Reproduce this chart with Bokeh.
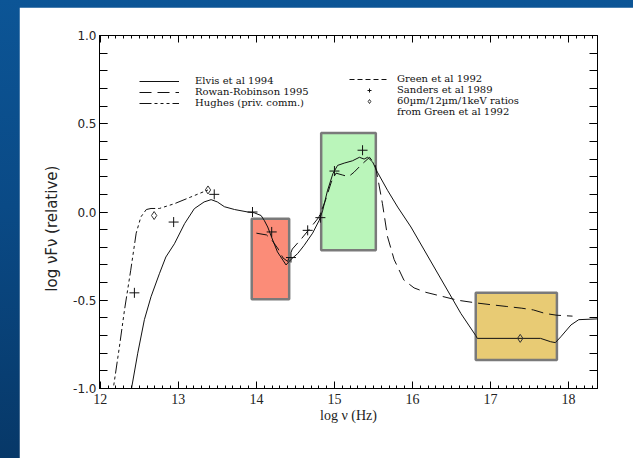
from bokeh.plotting import figure
from bokeh.models import (Legend, LegendItem, LinearAxis, FixedTicker,
                          SingleIntervalTicker, Range1d, NumeralTickFormatter)
from bokeh.layouts import column
from bokeh.embed import file_html
from bokeh.resources import INLINE

# ---------------- data ----------------
elvis_x = [12.37, 12.40, 12.48, 12.565, 12.65, 12.757, 12.84, 12.95, 13.08, 13.205,
           13.33, 13.42, 13.50, 13.59, 13.72, 13.89, 13.97, 14.06, 14.10, 14.145,
           14.21, 14.27, 14.34, 14.38, 14.44, 14.53, 14.61, 14.72, 14.805, 14.85,
           14.91, 14.98, 15.04, 15.125, 15.23, 15.32, 15.38, 15.425, 15.49, 15.55,
           15.68, 15.81, 15.98, 16.62, 16.81, 16.83, 17.64, 17.77, 17.83, 17.90,
           18.03, 18.13, 18.40]
elvis_y = [-1.10, -1.0, -0.80, -0.61, -0.48, -0.35, -0.255, -0.18, -0.066, 0.019,
           0.057, 0.07, 0.057, 0.03, 0.014, 0.0, -0.004, -0.02, -0.047, -0.085,
           -0.16, -0.226, -0.273, -0.30, -0.27, -0.235, -0.19, -0.12, -0.047, 0.01,
           0.12, 0.217, 0.264, 0.277, 0.29, 0.31, 0.30, 0.31, 0.283, 0.226,
           0.123, 0.028, -0.085, -0.575, -0.70, -0.716, -0.716, -0.735, -0.74, -0.707,
           -0.64, -0.61, -0.605]

rowan_x = [14.0, 14.13, 14.2, 14.28, 14.34, 14.40, 14.46, 14.58, 14.70, 14.80,
           14.88, 14.96, 15.02, 15.1, 15.18, 15.25, 15.35, 15.45, 15.52, 15.56,
           15.615, 15.68, 15.765, 15.89, 16.02, 16.17, 16.58, 16.83, 17.0, 17.2,
           17.4, 17.55, 17.7, 17.85, 18.05]
rowan_y = [-0.12, -0.13, -0.16, -0.21, -0.26, -0.28, -0.21, -0.15, -0.085, -0.03,
           0.06, 0.17, 0.22, 0.21, 0.20, 0.225, 0.27, 0.31, 0.27, 0.18,
           0.047, -0.14, -0.27, -0.386, -0.43, -0.455, -0.50, -0.516, -0.525, -0.535,
           -0.545, -0.555, -0.575, -0.585, -0.59]

hughes_x = [12.13, 12.17, 12.245, 12.31, 12.39, 12.46, 12.52, 12.59, 12.65, 12.757,
            12.95, 13.16, 13.38]
hughes_y = [-1.10, -0.99, -0.764, -0.556, -0.33, -0.12, -0.028, 0.014, 0.02, 0.02,
            0.047, 0.085, 0.125]

# Green et al 1992 curve: only its legend entry is visible (no plotted points)
green_x = [float("nan")]
green_y = [float("nan")]

sanders_x = [12.437, 12.94, 13.46, 13.95, 14.196, 14.443, 14.657, 14.82, 15.0, 15.36]
sanders_y = [-0.458, -0.057, 0.10, 0.0, -0.113, -0.258, -0.104, -0.032, 0.232, 0.35]

ratio_x = [12.69, 13.38, 17.38]
ratio_y = [-0.02, 0.125, -0.716]

# coloured bands: IR, optical/UV, X-ray
band_left = [13.94, 14.83, 16.81]
band_right = [14.42, 15.53, 17.85]
band_bottom = [-0.494, -0.217, -0.839]
band_top = [-0.038, 0.447, -0.458]
band_color = ["#fb8c78", "#baf5ba", "#e8cb74"]

x_ticks = [12, 13, 14, 15, 16, 17, 18]
y_ticks = [-1.0, -0.5, 0.0, 0.5, 1.0]
y_minor = [round(-1.0 + 0.1 * i, 1) for i in range(21)]

SERIF = "Liberation Serif"
LEGSERIF = "DejaVu Serif"
SANS = "DejaVu Sans"

p = figure(width=614, height=451, x_range=Range1d(11.99, 18.37), y_range=Range1d(-1.0, 1.0),
           output_backend="svg", toolbar_location=None,
           min_border_left=80, min_border_right=36, min_border_top=28, min_border_bottom=70,
           background_fill_color="white", border_fill_color="white")
p.margin = (7, 0, 0, 19)
p.grid.visible = False
p.outline_line_color = "black"
p.outline_line_width = 1

# bands
p.quad(left=band_left, right=band_right, bottom=band_bottom, top=band_top,
       fill_color=band_color, line_color="#7a7a7a", line_width=2.5)

r_elvis = p.line(elvis_x, elvis_y, line_color="#111111", line_width=1)
r_rowan = p.line(rowan_x, rowan_y, line_color="#111111", line_width=1, line_dash="12 6")
r_hughes = p.line(hughes_x, hughes_y, line_color="#111111", line_width=1,
                  line_dash="12 3 3 3 3 3 3 3")
r_green = p.line(green_x, green_y, line_color="#111111", line_width=1, line_dash="5 3")
r_sanders = p.scatter(sanders_x, sanders_y, marker="cross", size=10, line_color="#111111",
                      line_width=1)
r_ratio = p.scatter(ratio_x, ratio_y, marker="diamond", size=8, fill_color=None,
                    line_color="#333333", line_width=1)
r_blank = p.line(green_x, green_y, line_alpha=0)

# axes
xt = FixedTicker(ticks=x_ticks, minor_ticks=[round(11.9 + 0.1 * i, 1) for i in range(66)])
yt = FixedTicker(ticks=y_ticks, minor_ticks=y_minor)

xa = p.xaxis[0]
xa.ticker = xt
ya = p.yaxis[0]
ya.ticker = yt
ya.formatter = NumeralTickFormatter(format="0.0")

top = LinearAxis(ticker=xt, major_label_overrides={t: "" for t in x_ticks})
p.add_layout(top, "above")
right = LinearAxis(ticker=yt, major_label_overrides={t: "" for t in y_ticks})
p.add_layout(right, "right")

for ax in (xa, top):
    ax.major_tick_in = 7
    ax.major_tick_out = 0
    ax.minor_tick_in = 3
    ax.minor_tick_out = 0
for ax in (ya, right):
    ax.major_tick_in = 8
    ax.major_tick_out = 0
    ax.minor_tick_in = 8
    ax.minor_tick_out = 0
for ax in (xa, ya, top, right):
    ax.axis_line_color = "black"
    ax.major_tick_line_color = "black"
    ax.minor_tick_line_color = "black"
for ax in (top, right):
    ax.major_label_standoff = 0

xa.major_label_text_font = SERIF
xa.major_label_text_font_size = "14px"
xa.major_label_text_color = "#222222"
xa.major_label_standoff = 5
xa.axis_label = "log \u03bd (Hz)"
xa.axis_label_text_font = SERIF
xa.axis_label_text_font_size = "14px"
xa.axis_label_text_font_style = "normal"
xa.axis_label_text_color = "#222222"
xa.axis_label_standoff = 1

ya.major_label_text_font = SANS
ya.major_label_text_font_size = "12px"
ya.major_label_text_color = "#222222"
ya.major_label_standoff = 3
# trailing no-break spaces push the centred title a little lower, as in the reference
ya.axis_label = "log \u03bdF\u03bd (relative)" + "\u00a0" * 7
ya.axis_label_text_font = SANS
ya.axis_label_text_font_size = "15px"
ya.axis_label_text_font_style = "normal"
ya.axis_label_text_color = "#222222"
ya.axis_label_standoff = 9

common = dict(padding=0, spacing=0, glyph_width=40, glyph_height=10, label_height=10,
              border_line_color=None, background_fill_alpha=0,
              label_text_font=LEGSERIF, label_text_font_size="10px",
              label_text_line_height=1.05, label_text_color="#111111")

leg_left = Legend(items=[LegendItem(label="Elvis et al 1994", renderers=[r_elvis]),
                         LegendItem(label="Rowan-Robinson 1995", renderers=[r_rowan]),
                         LegendItem(label="Hughes (priv. comm.)", renderers=[r_hughes])],
                  location="top_left", margin=40, label_standoff=16, **common)
leg_right = Legend(items=[LegendItem(label="Green et al 1992", renderers=[r_green]),
                          LegendItem(label="Sanders et al 1989", renderers=[r_sanders]),
                          LegendItem(label="60\u00b5m/12\u00b5m/1keV ratios", renderers=[r_ratio]),
                          LegendItem(label="from Green et al 1992", renderers=[r_blank])],
                   location=(250, 271), margin=0, label_standoff=8, **common)
p.add_layout(leg_left)
p.add_layout(leg_right)

page = column(p, styles={"background": "linear-gradient(180deg, #0c5596 0%, #0a4a86 45%, #073868 100%)"})

open("out.html", "w").write(file_html(page, INLINE))
